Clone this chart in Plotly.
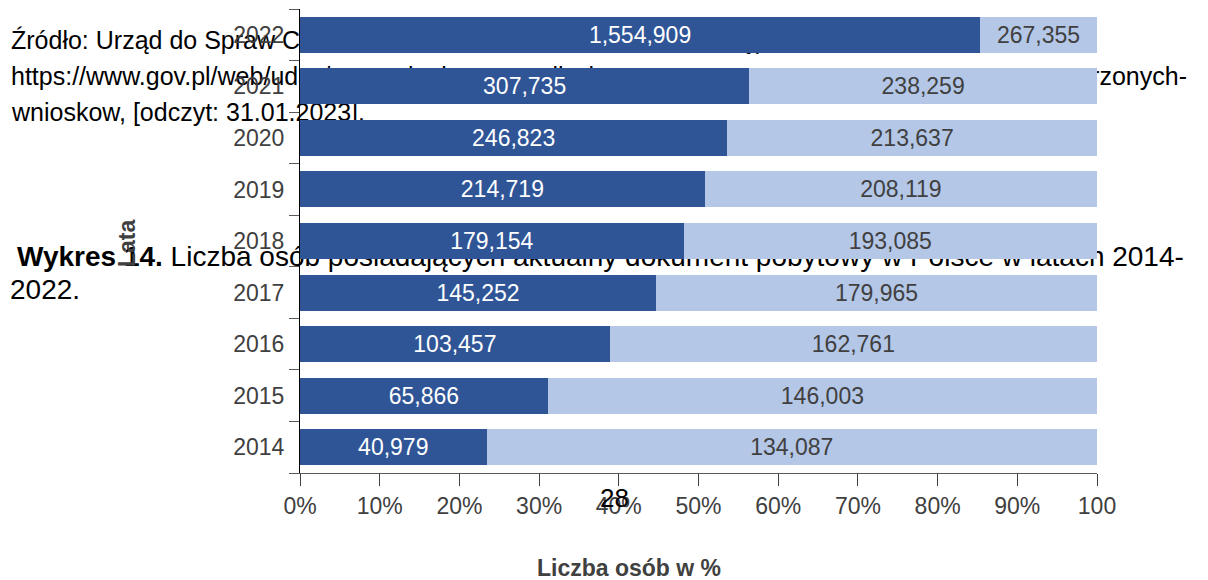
import plotly.graph_objects as go

# ---- data ----
years = ["2014", "2015", "2016", "2017", "2018", "2019", "2020", "2021", "2022"]
series_a = [40979, 65866, 103457, 145252, 179154, 214719, 246823, 307735, 1554909]
series_b = [134087, 146003, 162761, 179965, 193085, 208119, 213637, 238259, 267355]
x_tickvals = [0, 10, 20, 30, 40, 50, 60, 70, 80, 90, 100]
x_ticktext = ["0%", "10%", "20%", "30%", "40%", "50%", "60%", "70%", "80%", "90%", "100"]

DARK = "#2F5597"
LIGHT = "#B4C7E7"
GREY = "#404040"
CHART = "Liberation Sans Narrow, Arial Narrow, Liberation Sans, Arial, sans-serif"
PAGE = "Liberation Sans, Arial, sans-serif"
FS = 23

W, H = 1208, 580
L, R, T, B = 300, 1097, 9, 473


def xp(px):
    return (px - L) / (R - L)


def yp(py):
    return (B - py) / (B - T)


fig = go.Figure()
fig.add_trace(go.Bar(
    y=years, x=series_a, orientation="h", name="a",
    marker=dict(color=DARK, line=dict(width=0)),
    text=[f"{v:,}" for v in series_a], textposition="inside",
    insidetextanchor="middle", textangle=0,
    textfont=dict(family=CHART, size=FS, color="white"),
    hoverinfo="skip",
))
fig.add_trace(go.Bar(
    y=years, x=series_b, orientation="h", name="b",
    marker=dict(color=LIGHT, line=dict(width=0)),
    text=[f"{v:,}" for v in series_b], textposition="inside",
    insidetextanchor="middle", textangle=0,
    textfont=dict(family=CHART, size=FS, color=GREY),
    hoverinfo="skip",
))


# ---- page text lying behind the chart (document background) ----
def page_text(text, x_px, baseline, size, anchor="left", color="black"):
    cy = baseline - 0.35 * size
    if anchor == "left":
        x0, x1, pos = xp(x_px), xp(x_px + 2), "middle left"
    else:
        x0, x1, pos = xp(x_px - 2), xp(x_px), "middle right"
    fig.add_shape(
        type="rect", xref="paper", yref="paper",
        x0=x0, x1=x1, y0=yp(cy + 10), y1=yp(cy - 10),
        line=dict(width=0), fillcolor="rgba(0,0,0,0)", layer="below",
        label=dict(text=text, textposition=pos, padding=0,
                   font=dict(family=PAGE, size=size, color=color)),
    )


page_text("Źródło: Urząd do Spraw Cudzoziemców, Zestawienia roczne, dostępne w Internecie:", 8, 47, 25)
page_text("https://www.gov.pl/web/udsc/zestawienia-roczne-liczby-", 8, 82.5, 25)
page_text("rozpatrzonych-", 1190, 82.5, 25, anchor="right")
page_text("wnioskow, [odczyt: 31.01.2023].", 9, 118.5, 25)
page_text("<b>Wykres 14.</b> Liczba osób posiadających aktualny dokument pobytowy w Polsce w latach 2014-",
          14, 263, 28)
page_text("2022.", 7, 296, 28)

# ---- axis titles and page number ----
fig.add_annotation(text="<b>Lata</b>", xref="paper", yref="paper", x=xp(127), y=yp(243),
                   textangle=-90, showarrow=False, xanchor="center", yanchor="middle",
                   font=dict(family=CHART, size=FS, color=GREY))
fig.add_annotation(text="<b>Liczba osób w %</b>", xref="paper", yref="paper", x=xp(629), y=yp(568),
                   showarrow=False, xanchor="center", yanchor="middle",
                   font=dict(family=CHART, size=FS, color=GREY))
fig.add_annotation(text="28", xref="paper", yref="paper", x=xp(614), y=yp(498),
                   showarrow=False, xanchor="center", yanchor="middle",
                   font=dict(family=PAGE, size=26, color="black"))

fig.update_layout(
    width=W, height=H,
    margin=dict(l=L, r=W - R, t=T, b=H - B, pad=0),
    paper_bgcolor="white", plot_bgcolor="rgba(0,0,0,0)",
    barmode="stack", barnorm="percent", bargap=0.3,
    showlegend=False,
    uniformtext=dict(mode="show", minsize=FS),
    xaxis=dict(range=[0, 100], tickvals=x_tickvals, ticktext=x_ticktext,
               showgrid=False, zeroline=False, showline=True, linecolor="#595959", linewidth=1,
               ticks="outside", ticklen=12, tickcolor="#404040", tickwidth=1,
               tickfont=dict(family=CHART, size=FS, color=GREY), ticklabelstandoff=0),
    yaxis=dict(type="category", categoryorder="array", categoryarray=years,
               showgrid=False, zeroline=False, showline=True, linecolor="#000000", linewidth=1,
               ticks="outside", tickson="boundaries", ticklen=10, tickcolor="#595959", tickwidth=1,
               tickfont=dict(family=CHART, size=FS, color=GREY), ticklabelstandoff=10),
)

fig.write_html(
    "out.html",
    config={"displayModeBar": False},
    post_script="document.body.style.margin='0';document.body.style.overflow='hidden';",
)
